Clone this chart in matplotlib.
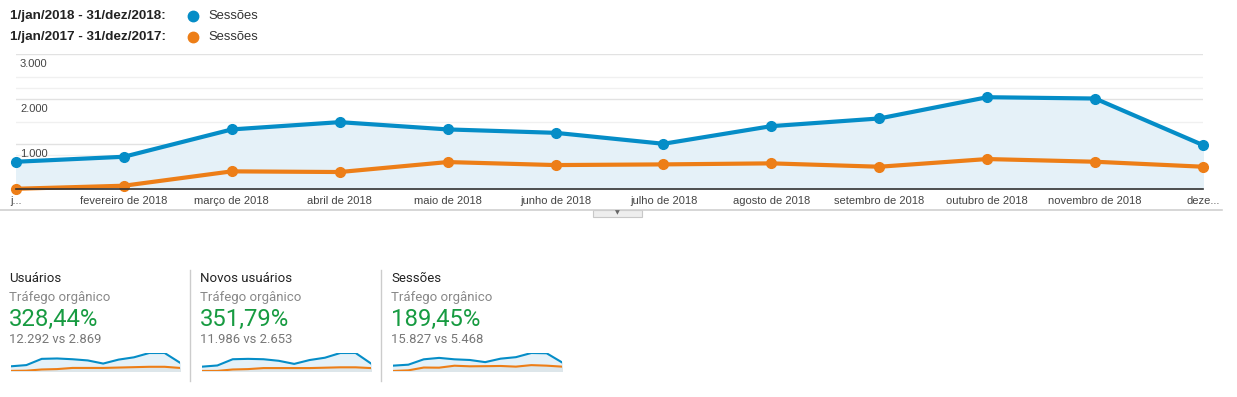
import matplotlib.pyplot as plt
from matplotlib.patches import Rectangle
from matplotlib.lines import Line2D


W,H=1237,397

meses=["j...","fevereiro de 2018","março de 2018","abril de 2018",
       "maio de 2018","junho de 2018","julho de 2018","agosto de 2018",
       "setembro de 2018","outubro de 2018","novembro de 2018","deze..."]

sessoes_2018=[607,718,1327,1489,1327,1251,1007,1400,1571,2044,2015,978]
sessoes_2017=[5,73,393,378,600,533,548,571,496,667,607,496]

usuarios_2018=[430,540,1110,1145,1075,965,680,1040,1250,1645,1645,755]
usuarios_2017=[10,30,140,175,280,280,280,315,350,385,385,280]

novos_2018=[400,510,1085,1120,1085,940,655,1010,1225,1660,1660,690]
novos_2017=[5,10,140,175,270,270,270,270,305,340,340,270]

periodos=["1/jan/2018 - 31/dez/2018:","1/jan/2017 - 31/dez/2017:"]
serie_nome="Sessões"

y_ticks=[1000,2000,3000]
y_tick_labels=["1.000","2.000","3.000"]
grid_fraco=[500,750,1500,2250,2500]

cards_titulo=["Usuários","Novos usuários","Sessões"]
cards_sub=["Tráfego orgânico"]*3
cards_pct=["328,44%","351,79%","189,45%"]
cards_vs=["12.292 vs 2.869","11.986 vs 2.653","15.827 vs 5.468"]
cards_atual=[usuarios_2018,novos_2018,sessoes_2018]
cards_ant=[usuarios_2017,novos_2017,sessoes_2017]

AZUL="#058dc7"
LARANJA="#ed7e17"
FUNDO="#e5f1f8"
VERDE="#179b41"


def rect(x0,y0,x1,y1):
    # pixel box (top-left origin) -> figure fraction
    return [x0/W,1-y1/H,(x1-x0)/W,(y1-y0)/H]


fig=plt.figure(figsize=(W/100,H/100),dpi=100)
fig.patch.set_facecolor("white")

# legend
for i,(p,c) in enumerate(zip(periodos,[AZUL,LARANJA])):
    yy=1-(15.7+21.6*i)/H
    fig.text(10/W,yy,p,fontsize=9.7,fontweight="bold",color="#222",
             family="Liberation Sans",va="center")
    fig.add_artist(Line2D([193/W],[yy],marker="o",ms=7.5,color=c,lw=0))
    fig.text(208/W,yy,serie_nome,fontsize=9.4,color="#333",
             family="Liberation Sans",va="center")

# main chart
ax=fig.add_axes(rect(16,54.3,1203,189))
x=list(range(len(meses)))
ax.fill_between(x,sessoes_2018,0,color=FUNDO,zorder=1)
for v in grid_fraco:
    ax.axhline(v,color="#f0f0f0",lw=1,zorder=0)
for v in y_ticks:
    ax.axhline(v,color="#e2e2e2",lw=1,zorder=0)
ax.plot(x,sessoes_2018,color=AZUL,lw=3,marker="o",ms=7,clip_on=False,zorder=4)
ax.plot(x,sessoes_2017,color=LARANJA,lw=3,marker="o",ms=7,clip_on=False,zorder=3)
ax.set_xlim(0,11)
ax.set_ylim(0,3000)
ax.set_yticks([])
ax.set_xticks(x)
ax.set_xticklabels(meses,fontsize=8,color="#444",family="Liberation Sans")
ax.tick_params(axis="x",length=0,pad=5)
for s in ["top","left","right"]:
    ax.spines[s].set_visible(False)
ax.spines["bottom"].set_color("#333")
ax.spines["bottom"].set_linewidth(1.2)
ax.spines["bottom"].set_zorder(5)
ax.patch.set_alpha(0)
for v,l in zip(y_ticks,y_tick_labels):
    ax.annotate(l,xy=(0,v),xytext=(4,-5),textcoords="offset pixels",
                fontsize=8,color="#444",family="Liberation Sans",va="top",
                zorder=2)

# line under the chart with the small tab
fig.add_artist(Line2D([0,1222/W],[1-209.5/H,1-209.5/H],color="#d0d0d0",lw=1.2))
fig.patches.append(Rectangle((593/W,1-216.5/H),49/W,7/H,transform=fig.transFigure,
                             facecolor="#eeeeee",edgecolor="#c8c8c8",lw=0.8,figure=fig))
fig.text(617/W,1-212.5/H,"▼",fontsize=4.5,color="#666",ha="center",va="center")

# cards
cards_x=[9,200,391]
for i in range(3):
    x0=cards_x[i]
    fig.text(x0/W,1-278/H,cards_titulo[i],fontsize=9.5,color="#222",
             family="Roboto",va="center")
    fig.text(x0/W,1-298/H,cards_sub[i],fontsize=9.5,color="#888",
             family="Roboto",va="center")
    fig.text(x0/W,1-319.5/H,cards_pct[i],fontsize=17.2,color=VERDE,
             family="Roboto",va="center")
    fig.text(x0/W,1-339.5/H,cards_vs[i],fontsize=9.4,color="#777",
             family="Roboto",va="center")
    if i>0:
        fig.add_artist(Line2D([(x0-10.5)/W]*2,[1-270/H,1-381/H],color="#cccccc",lw=1))

    sx=fig.add_axes(rect(x0+2,353,x0+171,371))
    atual=cards_atual[i]
    ant=cards_ant[i]
    sx.fill_between(range(12),atual,0,color=FUNDO)
    sx.fill_between(range(12),ant,0,color="#dde6ea")
    sx.plot(range(12),atual,color=AZUL,lw=1.5,solid_joinstyle="round")
    sx.plot(range(12),ant,color=LARANJA,lw=1.5,solid_joinstyle="round")
    sx.set_xlim(0,11)
    sx.set_ylim(0,max(atual))
    sx.axis("off")

fig.savefig("out.png",dpi=100)
print("saved")
